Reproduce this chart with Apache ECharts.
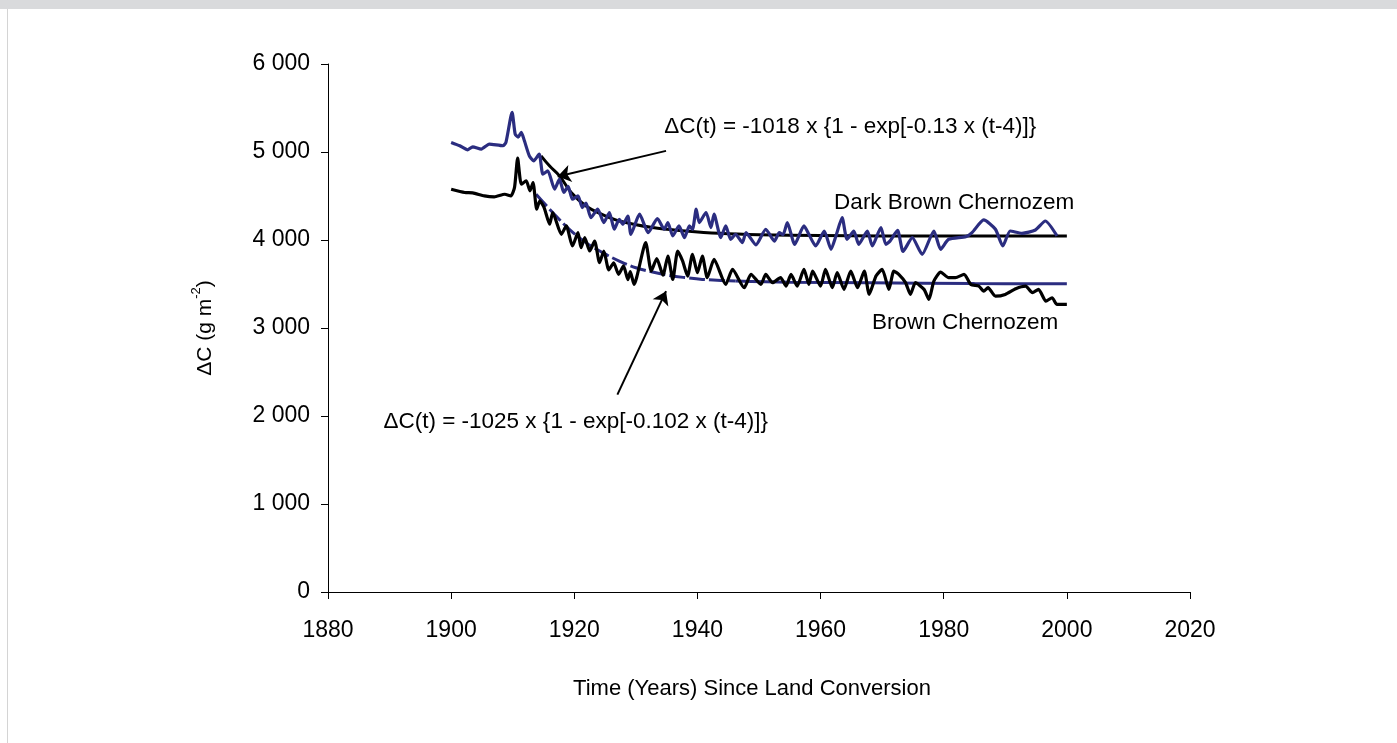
<!DOCTYPE html>
<html>
<head>
<meta charset="utf-8">
<script src="https://cdn.jsdelivr.net/npm/echarts@6/dist/echarts.min.js"></script>
<style>
  html, body { margin: 0; padding: 0; background: #fff; }
  .topbar { position: absolute; left: 0; top: 0; width: 1397px; height: 9px; background: #d9dadc; }
  .leftline { position: absolute; left: 7px; top: 9px; width: 1px; height: 734px; background: #d4d4d4; }
  #chart { position: absolute; left: 0; top: 0; width: 1397px; height: 743px; }
</style>
</head>
<body>
<div class="topbar"></div>
<div class="leftline"></div>
<div id="chart"></div>
<script>
// Dark Brown Chernozem (blue, measured)
var darkBrownYears = [1900, 1901.4, 1902.7, 1903.5, 1904.9, 1906.2, 1908.4, 1908.9, 1909.9, 1910.4, 1910.9, 1911.4, 1911.9,
  1912.7, 1913.4, 1914.3, 1914.9, 1915.7, 1916.8, 1917.6, 1918.3, 1919.0, 1919.7, 1920.6, 1921.3, 1921.9, 1922.7,
  1923.8, 1924.8, 1925.7, 1926.5, 1927.3, 1927.9, 1928.7, 1929.2, 1930.6, 1932.0, 1933.5, 1934.6, 1935.2, 1936.0,
  1937.0, 1937.9, 1938.7, 1939.2, 1939.8, 1940.3, 1941.4, 1942.2, 1942.7, 1943.8, 1944.6, 1945.4, 1946.2, 1947.3,
  1947.9, 1949.5, 1951.1, 1952.5, 1953.3, 1953.9, 1954.6, 1955.8, 1957.3, 1958.1, 1959.2, 1960.6, 1961.7, 1962.5,
  1963.5, 1964.3, 1965.4, 1966.2, 1967.6, 1968.4, 1969.8, 1970.6, 1971.3, 1972.5, 1973.4, 1974.9, 1976.5, 1978.4,
  1979.5, 1980.8, 1983.6, 1984.6, 1986.5, 1988.4, 1989.6, 1990.8, 1992.7, 1994.9, 1996.5, 1998.4];
var darkBrownValues = [5109, 5071, 5025, 5059, 5033, 5090, 5071, 5109, 5450, 5203, 5170, 5223, 5127,
  4956, 4899, 4976, 4748, 4786, 4577, 4691, 4540, 4610, 4463, 4501, 4369, 4420, 4255,
  4350, 4198, 4312, 4122, 4236, 4179, 4273, 4065, 4293, 4084, 4244, 4122, 4198, 4046,
  4160, 4027, 4160, 4120, 4350, 4198, 4312, 4141, 4293, 4027, 4160, 4008, 4065, 3970,
  4084, 3945, 4122, 3988, 4084, 4060, 4198, 3951, 4160, 4065, 3932, 4102, 3894, 4046,
  4255, 4008, 4102, 3951, 4102, 3932, 4141, 3951, 3990, 4110, 3870, 4027, 3837, 4102,
  3894, 4008, 4038, 4084, 4228, 4122, 3932, 4102, 4076, 4114, 4216, 4046];

// Brown Chernozem (black, measured)
var brownYears = [1900, 1902.2, 1903.5, 1905.4, 1907.0, 1908.7, 1909.7, 1910.3, 1910.8, 1911.4, 1912.2, 1912.8, 1913.3,
  1913.9, 1914.4, 1915.1, 1916.0, 1916.5, 1917.9, 1918.7, 1919.7, 1920.6, 1921.1, 1921.7, 1922.5, 1923.3, 1924.1,
  1924.8, 1925.6, 1926.4, 1927.2, 1928.0, 1928.7, 1929.1, 1929.7, 1931.6, 1932.5, 1933.4, 1934.4, 1935.2, 1936.0,
  1936.8, 1937.6, 1938.4, 1939.2, 1940.0, 1940.8, 1941.6, 1942.7, 1944.6, 1945.7, 1947.6, 1948.7, 1950.3, 1951.1,
  1952.2, 1953.5, 1954.4, 1955.2, 1956.2, 1957.3, 1958.1, 1958.7, 1960.0, 1960.8, 1961.9, 1962.7, 1963.8, 1964.9,
  1966.0, 1967.1, 1967.9, 1969.0, 1970.0, 1971.1, 1971.9, 1972.7, 1973.8, 1974.6, 1975.4, 1976.8, 1977.6, 1978.4,
  1979.5, 1980.8, 1981.9, 1983.3, 1984.4, 1985.7, 1986.5, 1987.2, 1988.4, 1990.0, 1991.7, 1993.3, 1994.4, 1995.4,
  1996.6, 1997.6, 1998.4, 2000.0];
var brownValues = [4577, 4540, 4535, 4501, 4490, 4520, 4501, 4600, 4930, 4634, 4672, 4558, 4653,
  4350, 4444, 4369, 4179, 4312, 4065, 4160, 3932, 4084, 3913, 4027, 3875, 3988, 3743,
  3875, 3660, 3740, 3610, 3705, 3550, 3640, 3495, 3970, 3647, 3790, 3600, 3818, 3552,
  3875, 3760, 3590, 3837, 3629, 3818, 3572, 3780, 3495, 3666, 3458, 3610, 3495, 3609,
  3515, 3572, 3476, 3609, 3476, 3666, 3495, 3647, 3476, 3666, 3458, 3629, 3439, 3647,
  3458, 3647, 3382, 3590, 3666, 3439, 3647, 3609, 3515, 3382, 3515, 3439, 3325, 3533,
  3636, 3572, 3572, 3609, 3495, 3476, 3419, 3458, 3362, 3382, 3447, 3476, 3401, 3439,
  3305, 3344, 3268, 3268];

// fitted curves
var darkBrownFitYears = [1914.6, 1916.0, 1917.6, 1919.5, 1921.9, 1924.5, 1927.3, 1932.7, 1938.1, 1943.5, 1950, 1960, 1980, 2000];
var darkBrownFitValues = [4956, 4840, 4729, 4540, 4387, 4290, 4216, 4141, 4103, 4076, 4060, 4050, 4046, 4046];
var brownFitYears = [1913.8, 1916.5, 1919.2, 1921.9, 1924.6, 1927.3, 1930.0, 1932.7, 1935.4, 1938.1, 1940.8, 1946.2, 1955, 1967.9, 1985, 2000];
var brownFitValues = [4520, 4312, 4122, 3970, 3856, 3761, 3685, 3636, 3598, 3572, 3552, 3533, 3520, 3515, 3505, 3503];

// annotations
var arrowUpper = [[1934.9, 5013], [1917.3, 4722]];
var arrowLower = [[1927.0, 2243], [1934.9, 3419]];
var notes = [
  { text: "ΔC(t) = -1018 x {1 - exp[-0.13 x (t-4)]}", at: [1934.6, 5284] },
  { text: "ΔC(t) = -1025 x {1 - exp[-0.102 x (t-4)]}", at: [1889.0, 1936] },
  { text: "Dark Brown Chernozem", at: [1962.2, 4418] },
  { text: "Brown Chernozem", at: [1968.35, 3063] }
];

var FONT = "'Liberation Sans', Arial, sans-serif";
var BLUE = "#2b2d80";

function pairs(xs, ys) {
  return xs.map(function (x, i) { return [x, ys[i]]; });
}
function spaced(v) {
  return String(v).replace(/\B(?=(\d{3})+(?!\d))/g, " ");
}

var brownFit = pairs(brownFitYears, brownFitValues);

var chart = echarts.init(document.getElementById("chart"));
chart.setOption({
  animation: false,
  grid: { left: 328, right: 207, top: 64, bottom: 151 },
  xAxis: {
    type: "value",
    min: 1880,
    max: 2020,
    interval: 20,
    axisLine: { show: true, onZero: false, lineStyle: { color: "#000", width: 1 } },
    axisTick: { show: true, length: 7, lineStyle: { color: "#000" } },
    axisLabel: {
      margin: 27, color: "#000", fontSize: 23, fontFamily: FONT,
      formatter: function (v) { return String(v); }
    },
    splitLine: { show: false }
  },
  yAxis: {
    type: "value",
    min: 0,
    max: 6000,
    interval: 1000,
    axisLine: { show: true, lineStyle: { color: "#000", width: 1 } },
    axisTick: { show: true, length: 7, lineStyle: { color: "#000" } },
    axisLabel: { margin: 18, color: "#000", fontSize: 23, fontFamily: FONT, formatter: spaced },
    splitLine: { show: false }
  },
  series: [
    {
      name: "Dark Brown fit",
      type: "line",
      data: pairs(darkBrownFitYears, darkBrownFitValues),
      showSymbol: false,
      smooth: 0.4,
      lineStyle: { color: "#000", width: 3 },
      z: 2
    },
    {
      name: "Dark Brown Chernozem",
      type: "line",
      data: pairs(darkBrownYears, darkBrownValues),
      showSymbol: false,
      smooth: 0.2,
      lineStyle: { color: BLUE, width: 3.2 },
      z: 3
    },
    {
      name: "Brown fit",
      type: "line",
      data: brownFit.filter(function (p) { return p[0] <= 1946.2; }),
      showSymbol: false,
      smooth: 0.4,
      lineStyle: { color: BLUE, width: 3, type: [16, 4] },
      z: 4
    },
    {
      name: "Brown fit tail",
      type: "line",
      data: brownFit.filter(function (p) { return p[0] >= 1946.2; }),
      showSymbol: false,
      smooth: 0.4,
      lineStyle: { color: BLUE, width: 3 },
      z: 4
    },
    {
      name: "Brown Chernozem",
      type: "line",
      data: pairs(brownYears, brownValues),
      showSymbol: false,
      smooth: 0.2,
      lineStyle: { color: "#000", width: 3.2 },
      z: 5
    },
    {
      name: "arrows",
      type: "line",
      data: [],
      z: 6,
      markLine: {
        silent: true,
        symbol: ["none", "arrow"],
        symbolSize: 13,
        label: { show: false },
        lineStyle: { color: "#000", width: 2, type: "solid" },
        data: [
          [{ coord: arrowUpper[0] }, { coord: arrowUpper[1] }],
          [{ coord: arrowLower[0] }, { coord: arrowLower[1] }]
        ]
      }
    }
  ]
});

var graphics = notes.map(function (n) {
  var p = chart.convertToPixel({ gridIndex: 0 }, n.at);
  return {
    type: "text",
    x: p[0],
    y: p[1],
    style: { text: n.text, fill: "#000", fontSize: 22.5, fontFamily: FONT, align: "left", verticalAlign: "middle" }
  };
});
graphics.push({
  type: "text",
  x: 752,
  y: 689,
  style: { text: "Time (Years) Since Land Conversion", fill: "#000", fontSize: 22, fontFamily: FONT, align: "center", verticalAlign: "middle" }
});
graphics.push({
  type: "text",
  x: 203,
  y: 328,
  rotation: Math.PI / 2,
  style: {
    text: "{a|ΔC (g m}{s|-2}{a|)}",
    align: "center",
    verticalAlign: "middle",
    rich: {
      a: { fontSize: 21, fontFamily: FONT, fill: "#000", lineHeight: 26, verticalAlign: "bottom" },
      s: { fontSize: 13, fontFamily: FONT, fill: "#000", lineHeight: 14, verticalAlign: "top" }
    }
  }
});
chart.setOption({ graphic: graphics });
</script>
</body>
</html>
